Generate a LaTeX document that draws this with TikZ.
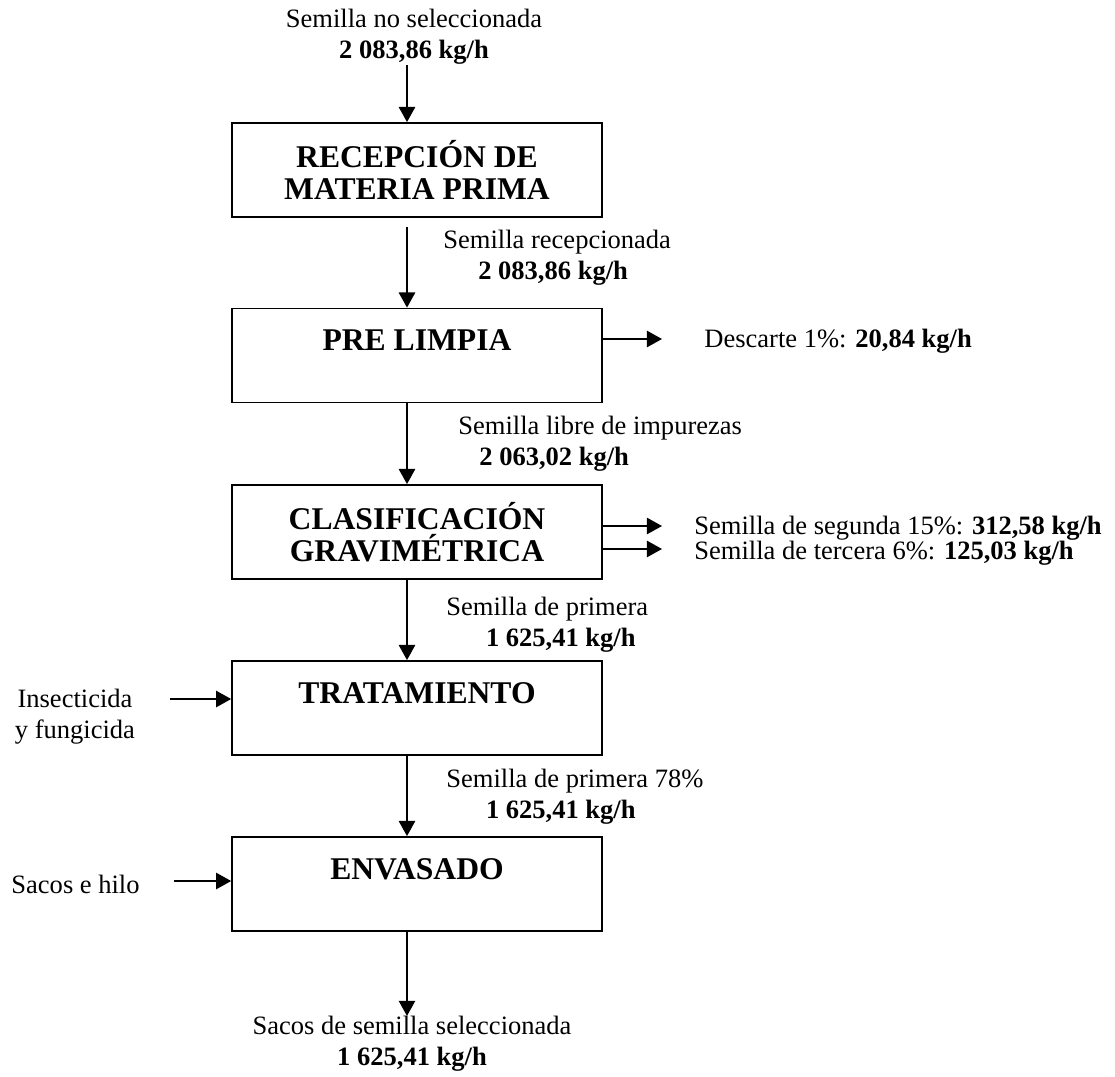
\documentclass[tikz,border=0pt]{standalone}
\usepackage{fontspec}
\setmainfont{Liberation Serif}
\usepackage{tikz}
\usetikzlibrary{positioning,arrows.meta}
\tikzset{
  etapa/.style={draw=black, line width=0.8pt, minimum width=159pt, minimum height=40.4pt,
    inner sep=0pt, align=center, font=\fontsize{13.6}{14}\selectfont\bfseries},
  sola/.style={text depth=13pt},
  lab/.style={inner sep=0pt, font=\fontsize{11.4}{13.3}\selectfont},
  flecha/.style={draw=black, line width=0.8pt, -{Triangle[length=6.5pt,width=7pt]}},
}

\begin{document}
\begin{tikzpicture}[x=0.43pt,y=-0.43pt]
\useasboundingbox (0,0) rectangle (1115,1077);
\coordinate (eje) at (407,0); % main flow runs a bit left of the box centres

% process stages
\node[etapa] (recepcion) at (417,170) {RECEPCIÓN DE\\MATERIA PRIMA};
\node[etapa, sola] (prelimpia) at (417,355.5) {PRE LIMPIA};
\node[etapa] (clasificacion) at (417,532) {CLASIFICACIÓN\\GRAVIMÉTRICA};
\node[etapa, sola] (tratamiento) at (417,708) {TRATAMIENTO};
\node[etapa, sola] (envasado) at (417,884) {ENVASADO};

% stream labels on the main line
\node[lab, align=center] (entrada) at (414,37) {Semilla no seleccionada\\\textbf{2 083,86 kg/h}};
\node[lab, align=left, anchor=west] (recibida) at (443,258) {Semilla recepcionada\\\hspace*{15pt}\textbf{2 083,86 kg/h}};
\node[lab, align=left, anchor=west] (limpia) at (458,444) {Semilla libre de impurezas\\\hspace*{9pt}\textbf{2 063,02 kg/h}};
\node[lab, align=left, anchor=west] (primera) at (446,625) {Semilla de primera\\\hspace*{17pt}\textbf{1 625,41 kg/h}};
\node[lab, align=left, anchor=west] (tratada) at (446,797) {Semilla de primera 78\%\\\hspace*{17pt}\textbf{1 625,41 kg/h}};
\node[lab, align=center] (salida) at (412,1044) {Sacos de semilla seleccionada\\\textbf{1 625,41 kg/h}};

\draw[flecha] (entrada.south -| eje) -- (recepcion.north -| eje);
\draw[flecha, shorten <=4pt] (recepcion.south -| eje) -- (prelimpia.north -| eje);
\draw[flecha] (prelimpia.south -| eje) -- (clasificacion.north -| eje);
\draw[flecha] (clasificacion.south -| eje) -- (tratamiento.north -| eje);
\draw[flecha] (tratamiento.south -| eje) -- (envasado.north -| eje);
\draw[flecha] (envasado.south -| eje) -- (salida.north -| eje);

% side streams out
\coordinate (descarteTip) at (662,339);
\coordinate (segundaTip) at (662,526);
\coordinate (terceraTip) at (662,549);
\node[lab, anchor=west] (descarte) at (704,341) {Descarte 1\%: \textbf{20,84 kg/h}};
\node[lab, anchor=west] (segunda) at (694,528) {Semilla de segunda 15\%: \textbf{312,58 kg/h}};
\node[lab, anchor=west] (tercera) at (694,553) {Semilla de tercera 6\%: \textbf{125,03 kg/h}};
\draw[flecha] (prelimpia.east |- descarteTip) -- (descarteTip);
\draw[flecha] (clasificacion.east |- segundaTip) -- (segundaTip);
\draw[flecha] (clasificacion.east |- terceraTip) -- (terceraTip);

% inputs from the left
\node[lab, align=center] (quimicos) at (75,717) {Insecticida\\y fungicida};
\node[lab, anchor=west] (sacos) at (11,884) {Sacos e hilo};
\coordinate (quimicosTail) at (170,699);
\coordinate (sacosTail) at (174,881);
\draw[flecha] (quimicosTail) -- (quimicosTail -| tratamiento.west);
\draw[flecha] (sacosTail) -- (sacosTail -| envasado.west);
\end{tikzpicture}
\end{document}
